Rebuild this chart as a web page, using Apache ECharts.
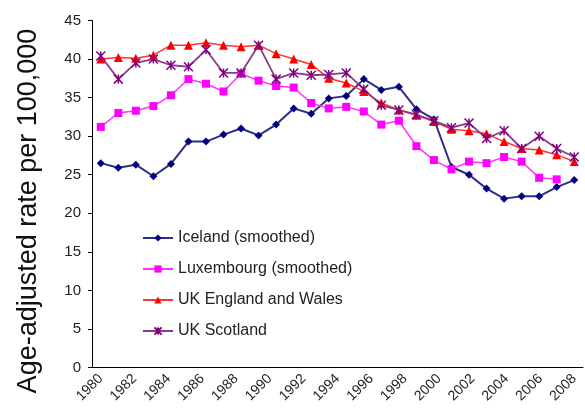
<!DOCTYPE html>
<html>
<head>
<meta charset="utf-8">
<script src="https://cdn.jsdelivr.net/npm/echarts@6/dist/echarts.min.js"></script>
<style>
  html, body { margin: 0; padding: 0; background: #fff; }
  #chart { width: 585px; height: 416px; }
</style>
</head>
<body>
<div id="chart"></div>
<script>
// 28 plotted points, one per category slot
var points = [];
for (var p = 0; p < 28; p++) points.push(String(p + 1));

// tick labels shown under the axis
var yearLabels = [1980, 1982, 1984, 1986, 1988, 1990, 1992, 1994, 1996, 1998, 2000, 2002, 2004, 2006, 2008];

var iceland = [26.5, 25.9, 26.3, 24.8, 26.4, 29.3, 29.3, 30.2, 31.0, 30.1, 31.5, 33.6, 32.9, 34.9,
               35.2, 37.4, 36.0, 36.4, 33.5, 32.2, 26.0, 25.0, 23.2, 21.9, 22.2, 22.2, 23.4, 24.3];
var luxembourg = [31.2, 33.0, 33.3, 33.9, 35.3, 37.4, 36.8, 35.8, 38.1, 37.2, 36.5, 36.3, 34.3, 33.6,
                  33.8, 33.2, 31.5, 32.0, 28.7, 26.9, 25.7, 26.7, 26.5, 27.3, 26.7, 24.6, 24.4, null];
var englandWales = [40.0, 40.2, 40.1, 40.5, 41.8, 41.8, 42.1, 41.8, 41.6, 41.8, 40.7, 40.0, 39.3, 37.5,
                    36.9, 35.8, 34.3, 33.4, 32.7, 31.9, 30.9, 30.7, 30.3, 29.3, 28.4, 28.2, 27.6, 26.7];
var scotland = [40.4, 37.4, 39.5, 40.0, 39.2, 39.0, 41.2, 38.2, 38.2, 41.8, 37.4, 38.2, 37.9, 38.0,
                38.2, 36.1, 34.0, 33.4, 32.8, 32.0, 31.1, 31.7, 29.7, 30.7, 28.4, 30.0, 28.4, 27.3];

var chart = echarts.init(document.getElementById('chart'));
var font = 'Liberation Sans, Arial, sans-serif';
var half = 0.5 * 28 / 27;

option = {
    animation: false,
    textStyle: { fontFamily: font },
    grid: { left: 92, right: 2, top: 20.5, bottom: 48.5 },
    legend: {
        orient: 'vertical',
        left: 137,
        top: 225,
        itemWidth: 30,
        itemHeight: 9,
        itemGap: 15,
        textStyle: { fontSize: 16, color: '#222', fontFamily: font },
        data: ['Iceland (smoothed)', 'Luxembourg (smoothed)', 'UK England and Wales', 'UK Scotland']
    },
    xAxis: [
        {
            type: 'category',
            data: points,
            boundaryGap: true,
            axisLine: { lineStyle: { color: '#000', width: 1 } },
            axisTick: { interval: 0, length: 5, lineStyle: { color: '#000' } },
            axisLabel: { show: false },
            splitLine: { show: false }
        },
        {
            type: 'value',
            position: 'bottom',
            min: 1980 - half,
            max: 2008 + half,
            axisLine: { show: false },
            axisTick: { show: false },
            splitLine: { show: false },
            axisLabel: {
                customValues: yearLabels,
                formatter: function (v) { return String(v); },
                rotate: 45,
                margin: 9,
                fontSize: 14,
                color: '#222',
                fontFamily: font
            }
        }
    ],
    yAxis: {
        type: 'value',
        min: 0,
        max: 45,
        interval: 5,
        name: 'Age-adjusted rate per 100,000',
        nameLocation: 'middle',
        nameRotate: 90,
        nameGap: 50,
        nameTextStyle: { fontSize: 27, color: '#111', fontFamily: font, padding: [0, 34, 0, 0] },
        axisLine: { show: true, lineStyle: { color: '#000', width: 1 } },
        axisTick: { show: true, length: 4, lineStyle: { color: '#000' } },
        axisLabel: { fontSize: 15, color: '#222', margin: 11, fontFamily: font },
        splitLine: { show: false }
    },
    series: [
        {
            name: 'Iceland (smoothed)',
            type: 'line',
            data: iceland,
            symbol: 'diamond',
            symbolSize: 8,
            itemStyle: { color: '#000080' },
            lineStyle: { color: '#2e2e85', width: 2 }
        },
        {
            name: 'Luxembourg (smoothed)',
            type: 'line',
            data: luxembourg,
            symbol: 'rect',
            symbolSize: 8,
            itemStyle: { color: '#ff00ff' },
            lineStyle: { color: '#ff33ff', width: 1.5 }
        },
        {
            name: 'UK England and Wales',
            type: 'line',
            data: englandWales,
            symbol: 'triangle',
            symbolSize: 9,
            itemStyle: { color: '#ff0000' },
            lineStyle: { color: '#ff3333', width: 1.5 }
        },
        {
            name: 'UK Scotland',
            type: 'line',
            data: scotland,
            symbol: 'path://M0,0L10,10M10,0L0,10M5,0L5,10',
            symbolSize: 9,
            itemStyle: { color: '#800080', borderColor: '#800080', borderWidth: 1.5 },
            lineStyle: { color: '#8a3a8a', width: 1.8 }
        }
    ]
};
chart.setOption(option);
</script>
</body>
</html>
